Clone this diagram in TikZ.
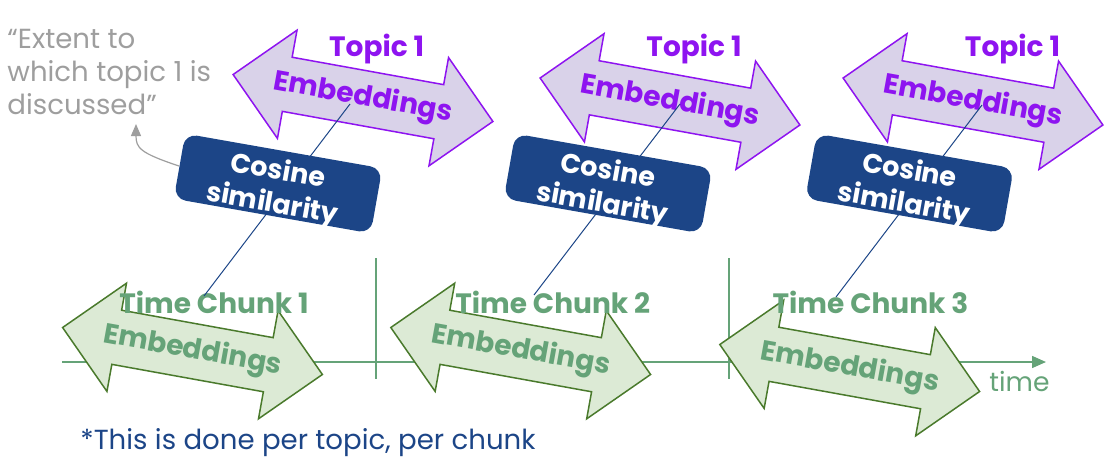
\documentclass[tikz,border=0pt]{standalone}
\usepackage{fontspec}
\setmainfont{Poppins}
\usetikzlibrary{arrows.meta}

\definecolor{topicfill}{HTML}{D9D2E9}
\definecolor{topicviolet}{HTML}{8E14F0}
\definecolor{chunkfill}{HTML}{DCEAD5}
\definecolor{chunkedge}{HTML}{4A7A2C}
\definecolor{chunkgreen}{HTML}{65A378}
\definecolor{cosblue}{HTML}{1C4587}
\definecolor{notegray}{HTML}{9E9E9E}

\tikzset{
  topicarrow/.style={draw=topicviolet, fill=topicfill, line width=0.75pt, line join=miter},
  chunkarrow/.style={draw=chunkedge, fill=chunkfill, line width=0.75pt, line join=miter},
  topictext/.style={text=topicviolet, font=\fontsize{14}{16}\selectfont\bfseries, inner sep=0pt},
  chunktext/.style={text=chunkgreen, font=\fontsize{14}{16}\selectfont\bfseries, inner sep=0pt},
  cosbox/.style={fill=cosblue, rounded corners=6pt, minimum width=100pt, minimum height=33pt,
    inner sep=0pt},
  costext/.style={text=white, align=center, inner sep=0pt,
    font=\fontsize{13.5}{16.5}\selectfont\bfseries},
  simline/.style={draw=cosblue, line width=0.5pt},
  axisline/.style={draw=chunkgreen, line width=0.75pt},
  notetext/.style={text=notegray, font=\fontsize{13.8}{16.5}\selectfont, inner sep=0pt, align=left}
}

\begin{document}
\begin{tikzpicture}[x=0.5pt, y=-0.5pt]
  \useasboundingbox (0,0) rectangle (1108,456);

  % time axis with chunk borders
  \coordinate (tstart) at (62,362);
  \coordinate (tend) at (1046,362);
  \draw[axisline, -{Triangle[length=7pt, width=6pt]}] (tstart) -- (tend);
  \foreach \X in {376,729} {
    \draw[axisline] (\X,258) -- (\X,379);
  }
  \node[text=chunkgreen, font=\fontsize{13.3}{15}\selectfont, inner sep=0pt, anchor=base west]
    (timelbl) at (989,391) {time};

  % topic embeddings
  \foreach \i/\cx/\cy in {1/363/98, 2/670/101.5, 3/973/101.5} {
    \draw[topicarrow, shift={(\cx,\cy)}, rotate=-10.25]
      (-132,0) -- (-77,-55) -- (-77,-27.5) -- (77,-27.5) -- (77,-55)
      -- (132,0) -- (77,55) -- (77,27.5) -- (-77,27.5) -- (-77,55) -- cycle;
    \node[topictext, rotate=-10.25] (temb\i) at (\cx,\cy) {Embeddings};
  }
  \foreach \i/\cx in {1/376.7, 2/694, 3/1012.5} {
    \node[topictext, anchor=base] (topic\i) at (\cx,56) {Topic 1};
  }

  % chunk embeddings
  \foreach \i/\cx/\cy in {1/192.5/351, 2/520.7/351, 3/849.7/368} {
    \draw[chunkarrow, shift={(\cx,\cy)}, rotate=-10.25]
      (-132,0) -- (-77,-55) -- (-77,-27.5) -- (77,-27.5) -- (77,-55)
      -- (132,0) -- (77,55) -- (77,27.5) -- (-77,27.5) -- (-77,55) -- cycle;
    \node[chunktext, rotate=-10.25] (cemb\i) at (\cx,\cy) {Embeddings};
  }
  \foreach \i/\cx in {1/214, 2/552.7, 3/870.5} {
    \node[chunktext, anchor=base] (chunk\i) at (\cx,313.3) {Time Chunk \i};
  }

  % links chunk -> topic
  \coordinate (lb1) at (204,296);  \coordinate (lt1) at (350,104);
  \coordinate (lb2) at (534,295);  \coordinate (lt2) at (680,104);
  \coordinate (lb3) at (836,297);  \coordinate (lt3) at (982,105);
  \foreach \i in {1,2,3} {
    \draw[simline] (lb\i) -- (lt\i);
  }

  % cosine boxes
  \foreach \i/\cx in {1/278, 2/608, 3/909.5} {
    \node[cosbox, rotate=-10] (cos\i) at (\cx,183.5) {};
    \node[costext, rotate=-10] (costxt\i) at ([shift={(-3,5)}]cos\i.center) {Cosine\\similarity};
  }

  % note
  \node[notetext, anchor=north west] (extent) at (7,29)
    {“Extent to\\which topic 1 is\\discussed”};
  \coordinate (notetip) at (136,124);
  \draw[notegray, line width=0.6pt, -{Triangle[length=6pt, width=5pt]}]
    (cos1.west) .. controls (140,153) and (136,148) .. (notetip);

  \node[text=cosblue, font=\fontsize{13.8}{15}\selectfont, inner sep=0pt, anchor=base west]
    (footnote) at (80,449) {*This is done per topic, per chunk};
\end{tikzpicture}
\end{document}
